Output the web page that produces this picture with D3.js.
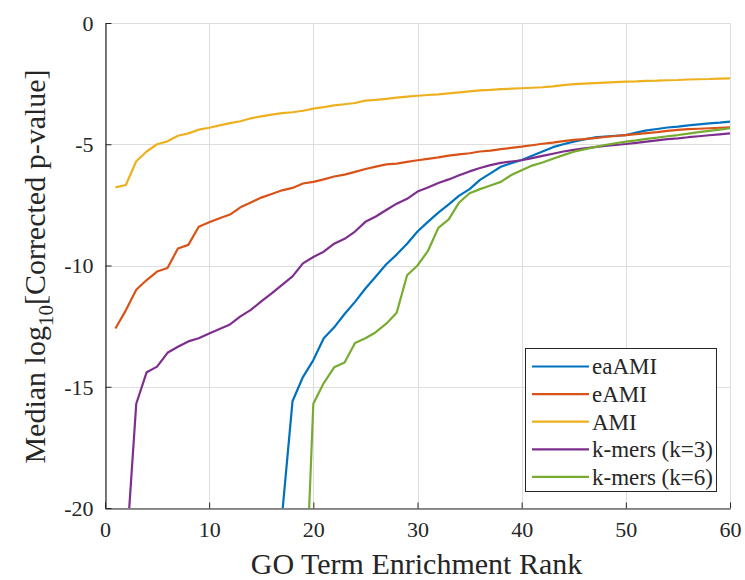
<!DOCTYPE html>
<html>
<head>
<meta charset="utf-8">
<script src="https://cdn.jsdelivr.net/npm/d3@7"></script>
<style>
  html, body { margin: 0; padding: 0; background: #fff; }
  svg { display: block; }
  svg text { font-family: "Liberation Serif", "Times New Roman", serif !important; fill: #262626; }
</style>
</head>
<body>
<div id="chart"></div>
<script>
// Rank positions of the GO terms
const ranks = d3.range(1, 61);

// Median log10 corrected p-values per method, indexed by rank (null = not plotted)
const amiValues = [
  -6.78, -6.68, -5.7, -5.3, -5.0, -4.88, -4.65, -4.55, -4.4, -4.32,
  -4.22, -4.13, -4.05, -3.93, -3.85, -3.78, -3.72, -3.68, -3.62, -3.53,
  -3.47, -3.4, -3.35, -3.3, -3.2, -3.17, -3.13, -3.08, -3.04, -3.0,
  -2.97, -2.94, -2.9, -2.86, -2.82, -2.78, -2.76, -2.73, -2.71, -2.69,
  -2.67, -2.65, -2.61, -2.56, -2.52, -2.5, -2.48, -2.46, -2.44, -2.42,
  -2.41, -2.39, -2.38, -2.36, -2.35, -2.33, -2.32, -2.31, -2.29, -2.28
];
const eamiValues = [
  -12.6, -11.85, -11.0, -10.6, -10.25, -10.1, -9.3, -9.15, -8.4, -8.22,
  -8.05, -7.9, -7.6, -7.4, -7.2, -7.05, -6.9, -6.8, -6.62, -6.55,
  -6.45, -6.33, -6.25, -6.14, -6.02, -5.92, -5.83, -5.8, -5.73, -5.66,
  -5.6, -5.54, -5.47, -5.42, -5.37, -5.3, -5.26, -5.2, -5.15, -5.1,
  -5.04, -4.98, -4.93, -4.87, -4.82, -4.79, -4.75, -4.7, -4.66, -4.62,
  -4.58, -4.54, -4.5, -4.45, -4.41, -4.38, -4.36, -4.34, -4.32, -4.3
];
const eaamiValues = [
  null, null, null, null, null, null, null, null, null, null,
  null, null, null, null, null, null, -20.3, -15.6, -14.6, -13.9,
  -13.0, -12.55, -12.0, -11.5, -10.95, -10.45, -9.95, -9.55, -9.1, -8.6,
  -8.2, -7.82, -7.48, -7.12, -6.85, -6.47, -6.2, -5.93, -5.78, -5.65,
  -5.47, -5.3, -5.12, -5.0, -4.89, -4.8, -4.72, -4.68, -4.65, -4.62,
  -4.52, -4.43, -4.37, -4.31, -4.27, -4.22, -4.18, -4.14, -4.11, -4.07
];
const kmer3Values = [
  null, -22.1, -15.7, -14.4, -14.17, -13.6, -13.35, -13.13, -13.0, -12.8,
  -12.62, -12.43, -12.1, -11.83, -11.48, -11.15, -10.8, -10.45, -9.91, -9.65,
  -9.43, -9.1, -8.9, -8.6, -8.2, -7.98, -7.71, -7.45, -7.25, -6.95,
  -6.78, -6.6, -6.45, -6.28, -6.12, -5.98, -5.86, -5.77, -5.71, -5.66,
  -5.57, -5.48, -5.39, -5.3, -5.23, -5.17, -5.12, -5.07, -5.03, -4.99,
  -4.94, -4.89, -4.84, -4.79, -4.76, -4.71, -4.67, -4.63, -4.59, -4.55
];
const kmer6Values = [
  null, null, null, null, null, null, null, null, null, null,
  null, null, null, null, null, null, null, null, -26.5, -15.7,
  -14.85, -14.2, -14.0, -13.2, -13.0, -12.75, -12.4, -11.95, -10.4, -10.0,
  -9.4, -8.45, -8.1, -7.4, -7.02, -6.85, -6.7, -6.55, -6.27, -6.07,
  -5.88, -5.75, -5.6, -5.45, -5.31, -5.21, -5.12, -5.03, -4.96, -4.89,
  -4.84, -4.78, -4.73, -4.67, -4.62, -4.56, -4.5, -4.45, -4.4, -4.34
];

const seriesNames = ["eaAMI", "eAMI", "AMI", "k-mers (k=3)", "k-mers (k=6)"];
const seriesColors = ["#0072BD", "#D95319", "#EDB120", "#7E2F8E", "#77AC30"];
const seriesValues = [eaamiValues, eamiValues, amiValues, kmer3Values, kmer6Values];

const xTicks = [0, 10, 20, 30, 40, 50, 60];
const yTicks = [0, -5, -10, -15, -20];

const width = 745, height = 580;
const margin = { left: 105, right: 15, top: 23, bottom: 72 };
const innerW = width - margin.left - margin.right;
const innerH = height - margin.top - margin.bottom;
const serif = "'Liberation Serif', 'Times New Roman', serif";

const svg = d3.select("#chart").append("svg")
  .attr("width", width).attr("height", height)
  .attr("font-family", serif);

const x = d3.scaleLinear().domain([0, 60]).range([margin.left, margin.left + innerW]);
const y = d3.scaleLinear().domain([-20, 0]).range([margin.top + innerH, margin.top]);

// Grid lines
const grid = svg.append("g").attr("stroke", "#dedede").attr("stroke-width", 1);
grid.selectAll("line.gx").data(xTicks).join("line")
  .attr("x1", d => Math.round(x(d)) + 0.5).attr("x2", d => Math.round(x(d)) + 0.5)
  .attr("y1", y(0)).attr("y2", y(-20));
grid.selectAll("line.gy").data(yTicks).join("line")
  .attr("y1", d => Math.round(y(d)) + 0.5).attr("y2", d => Math.round(y(d)) + 0.5)
  .attr("x1", x(0)).attr("x2", x(60));

// Clip region for the curves
svg.append("clipPath").attr("id", "plot-clip")
  .append("rect")
  .attr("x", x(0)).attr("y", y(0))
  .attr("width", x(60) - x(0)).attr("height", y(-20) - y(0));

const line = d3.line()
  .defined(d => d.v !== null)
  .x(d => x(d.r))
  .y(d => y(d.v));

const curves = svg.append("g").attr("clip-path", "url(#plot-clip)");
seriesValues.forEach((vals, i) => {
  const pts = ranks.map((r, k) => ({ r: r, v: vals[k] }));
  curves.append("path")
    .datum(pts)
    .attr("fill", "none")
    .attr("stroke", seriesColors[i])
    .attr("stroke-width", 2.2)
    .attr("stroke-linejoin", "round")
    .attr("d", line);
});

// Axes (ticks pointing inward, plain hyphen minus signs)
const fmt = d => String(d);
const xAxis = d3.axisBottom(x).tickValues(xTicks).tickFormat(fmt)
  .tickSizeInner(-6).tickSizeOuter(0).tickPadding(13);
const yAxis = d3.axisLeft(y).tickValues(yTicks).tickFormat(fmt)
  .tickSizeInner(-6).tickSizeOuter(0).tickPadding(12);

const gx = svg.append("g")
  .attr("transform", `translate(0,${Math.round(y(-20)) + 0.5})`)
  .call(xAxis);
const gy = svg.append("g")
  .attr("transform", `translate(${Math.round(x(0)) + 0.5},0)`)
  .call(yAxis);

[gx, gy].forEach(g => {
  g.attr("font-family", serif).attr("font-size", 22);
  g.select(".domain").attr("stroke", "#262626").attr("stroke-width", 1.2);
  g.selectAll(".tick line").attr("stroke", "#262626").attr("stroke-width", 1);
  g.selectAll(".tick text").attr("fill", "#262626");
});
gx.selectAll(".tick text").attr("dy", "0.72em");
gy.selectAll(".tick text").attr("dy", "0.34em");

// Axis titles
svg.append("text")
  .attr("x", x(30) - 1).attr("y", 574)
  .attr("text-anchor", "middle")
  .attr("font-size", 30)
  .text("GO Term Enrichment Rank");

const yLabel = svg.append("text")
  .attr("transform", `translate(45,${(y(0) + y(-20)) / 2 + 1}) rotate(-90)`)
  .attr("text-anchor", "middle")
  .attr("font-size", 30);
yLabel.append("tspan").text("Median log");
yLabel.append("tspan").attr("dy", 8).attr("font-size", 21).text("10");
yLabel.append("tspan").attr("dy", -8).text("[Corrected p-value]");

// Legend
const legend = svg.append("g");
const lgX = 525.5, lgY = 348.5, lgW = 191, lgH = 143;
legend.append("rect")
  .attr("x", lgX).attr("y", lgY).attr("width", lgW).attr("height", lgH)
  .attr("fill", "#fff").attr("stroke", "#262626").attr("stroke-width", 1);
seriesNames.forEach((name, i) => {
  const cy = 366.5 + i * 27.6;
  legend.append("line")
    .attr("x1", 532).attr("x2", 589)
    .attr("y1", cy).attr("y2", cy)
    .attr("stroke", seriesColors[i]).attr("stroke-width", 2.2);
  legend.append("text")
    .attr("x", 592).attr("y", cy).attr("dy", "0.34em")
    .attr("font-size", 23)
    .text(name);
});
</script>
</body>
</html>
